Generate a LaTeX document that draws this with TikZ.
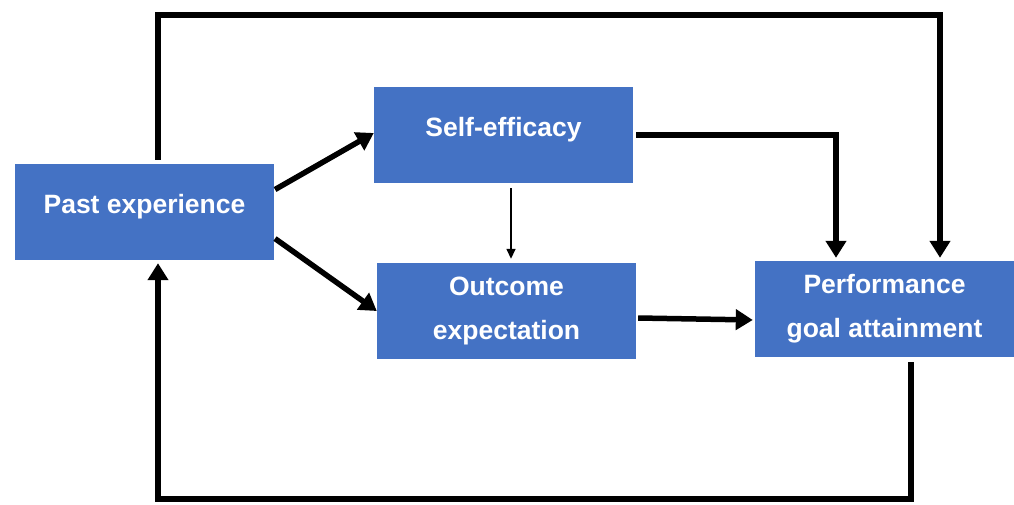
\documentclass[tikz,border=0pt]{standalone}
\usepackage{fontspec}
\setmainfont{Liberation Sans}
\usetikzlibrary{arrows.meta}
\definecolor{boxblue}{HTML}{4472C4}
\begin{document}
\begin{tikzpicture}[x=1pt,y=-1pt,
  box/.style={fill=boxblue, draw=none, minimum width=259pt, minimum height=96pt,
    inner sep=0pt, text=white, font=\fontsize{26.5}{44}\selectfont\bfseries, align=center},
  thickarrow/.style={line width=5.5pt, -{Triangle[length=17pt,width=20pt]}},
  thinarrow/.style={line width=1.5pt, -{Triangle[length=10pt,width=9pt]}}]
\useasboundingbox (0,0) rectangle (1014,504);
\node[box] (past) at (144.5,212) {\raisebox{5pt}[\height][\depth]{Past experience}};
\node[box] (self) at (503.5,135) {\raisebox{5pt}[\height][\depth]{Self-efficacy}};
\node[box] (outc) at (506.5,311) {Outcome\\expectation};
\node[box] (perf) at (884.5,309) {Performance\\goal attainment};
\coordinate (tl) at (158,15);
\coordinate (tr) at (940,15);
\coordinate (bl) at (158,499);
\coordinate (br) at (911,499);
\coordinate (sc) at (836,135);
% past -> self / outcome
\draw[thickarrow, shorten <=1pt] ([yshift=22pt]past.east) -- ([yshift=2pt]self.west);
\draw[thickarrow, shorten <=1pt] ([yshift=-26pt]past.east) -- (outc.west);
% self -> outcome
\draw[thinarrow, shorten <=5pt, shorten >=4pt] ([xshift=7.5pt]self.south) -- ([xshift=4.5pt]outc.north);
% self -> performance
\draw[thickarrow, shorten >=3pt] ([xshift=3pt]self.east) -- (sc) -- ([xshift=-48.5pt]perf.north);
% outcome -> performance
\draw[thickarrow, shorten >=2pt] ([xshift=2pt,yshift=-7pt]outc.east) -- ([yshift=-11pt]perf.west);
% top loop
\draw[thickarrow, shorten <=4pt, shorten >=3pt] ([xshift=13.5pt]past.north) -- (tl) -- (tr) -- ([xshift=55.5pt]perf.north);
% bottom loop
\draw[thickarrow, shorten <=5pt, shorten >=3pt] ([xshift=26.5pt]perf.south) -- (br) -- (bl) -- ([xshift=13.5pt]past.south);
\end{tikzpicture}
\end{document}
